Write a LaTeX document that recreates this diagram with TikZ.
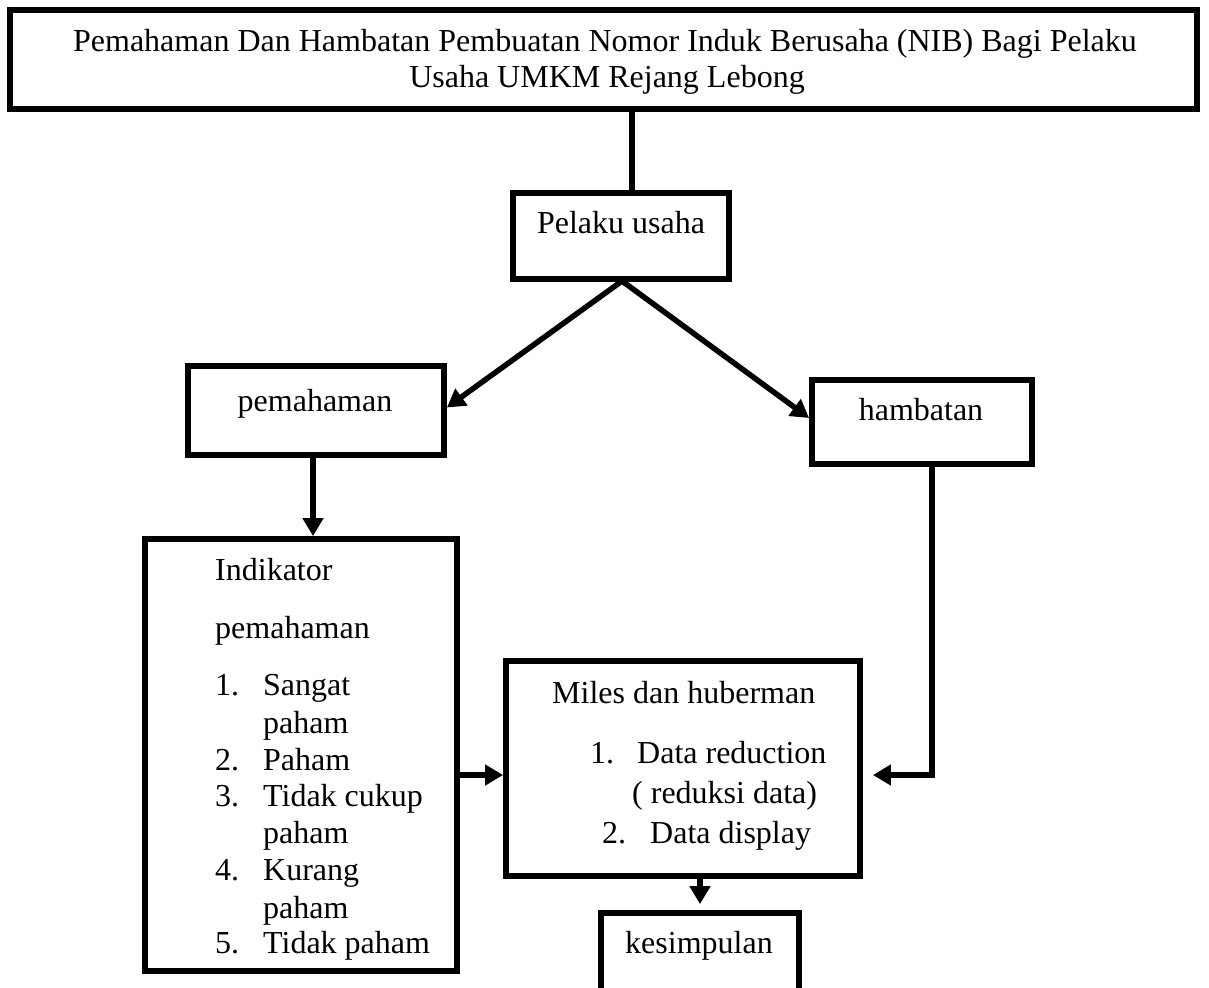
\documentclass[tikz,border=0pt]{standalone}
\usepackage{fontspec}
\setmainfont{Liberation Serif}
\usetikzlibrary{arrows.meta}
\begin{document}
\begin{tikzpicture}[x=1pt,y=-1pt,
  box/.style={draw,line width=5.8pt,inner sep=0pt},
  txt/.style={anchor=base west,inner sep=0pt,font=\fontsize{32}{38}\selectfont},
  ctxt/.style={anchor=base,inner sep=0pt,font=\fontsize{32}{38}\selectfont},
  conn/.style={line width=5.5pt},
  arr/.style={line width=5.5pt,-{Triangle[length=18pt,width=20pt]}}]
\useasboundingbox (0,0) rectangle (1209,987);
\begin{scope}
\clip (0,0) rectangle (1209,987);
% boxes
\node[box,minimum width=1187pt,minimum height=99pt] (title) at (603.5,59.5) {};
\node[box,minimum width=216pt,minimum height=86pt] (pelaku) at (621,236) {};
\node[box,minimum width=256pt,minimum height=89pt] (pem) at (316,410.5) {};
\node[box,minimum width=220pt,minimum height=84pt] (ham) at (922,422) {};
\node[box,minimum width=312pt,minimum height=432pt] (ind) at (301,755) {};
\node[box,minimum width=354pt,minimum height=215pt] (miles) at (683,768.5) {};
\node[box,minimum width=198pt,minimum height=87pt] (kes) at (700,956.5) {};
\end{scope}
% texts
\node[ctxt] (t1) at (605,52) {Pemahaman Dan Hambatan Pembuatan Nomor Induk Berusaha (NIB) Bagi Pelaku};
\node[ctxt] (t2) at (607,88) {Usaha UMKM Rejang Lebong};
\node[ctxt] (tpel) at (621,233) {Pelaku usaha};
\node[ctxt] (tpem) at (315,411) {pemahaman};
\node[ctxt] (tham) at (921,420) {hambatan};
\node[txt] (i1) at (215,580) {Indikator};
\node[txt] (i2) at (215,638) {pemahaman};
\node[txt] (n1) at (215,695) {1.};
\node[txt] (l1) at (263,695) {Sangat};
\node[txt] (l1b) at (263,733) {paham};
\node[txt] (n2) at (215,770) {2.};
\node[txt] (l2) at (263,770) {Paham};
\node[txt] (n3) at (215,806) {3.};
\node[txt] (l3) at (263,806) {Tidak cukup};
\node[txt] (l3b) at (263,843) {paham};
\node[txt] (n4) at (215,880) {4.};
\node[txt] (l4) at (263,880) {Kurang};
\node[txt] (l4b) at (263,918) {paham};
\node[txt] (n5) at (215,953) {5.};
\node[txt] (l5) at (263,953) {Tidak paham};
\node[txt] (m0) at (552,703) {Miles dan huberman};
\node[txt] (mn1) at (590,763) {1.};
\node[txt] (m1) at (637,763) {Data reduction};
\node[txt] (m1b) at (632,803) {( reduksi data)};
\node[txt] (mn2) at (602,843) {2.};
\node[txt] (m2) at (650,843) {Data display};
\node[ctxt] (tkes) at (699,953) {kesimpulan};
% helper coordinates
\coordinate (xa) at (632,0);
\coordinate (apex) at (622,281);
\coordinate (xb) at (313,0);
\coordinate (yc) at (0,775);
\coordinate (xd) at (932,0);
\coordinate (xe) at (700,0);
% connectors
\draw[conn] (title.south -| xa) -- (pelaku.north -| xa);
\draw[arr] (apex) -- ([yshift=3pt]pem.east);
\draw[arr] (apex) -- ([yshift=4pt]ham.west);
\draw[arr] (pem.south -| xb) -- (ind.north -| xb);
\draw[arr] (ind.east |- yc) -- (miles.west |- yc);
\draw[arr,shorten >=10pt] (ham.south -| xd) |- ([yshift=-2pt]miles.east |- 0,773);
\draw[arr,shorten >=6pt] (miles.south -| xe) -- (kes.north -| xe);
\end{tikzpicture}
\end{document}
